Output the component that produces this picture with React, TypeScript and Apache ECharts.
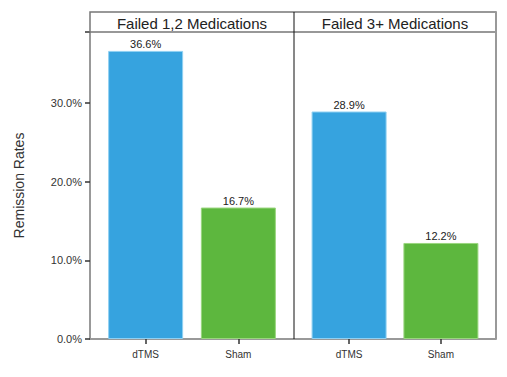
import React, { useEffect, useRef } from "react";
import * as echarts from "echarts";

const panels = ["Failed 1,2 Medications", "Failed 3+ Medications"];
const categories = ["dTMS", "Sham"];
const panel1Values = [36.6, 16.7];
const panel2Values = [28.9, 12.2];
const yTicks = [0, 10, 20, 30];
const barColors = ["#36A3DF", "#5DB73E"];
const barBorders = ["#8FD0F2", "#9AD67F"];

const FONT = "Liberation Sans, Arial, sans-serif";

export default function App() {
  const ref = useRef<HTMLDivElement>(null);
  useEffect(() => {
    if (!ref.current) return;
    const chart = echarts.init(ref.current, null, { renderer: "svg" });
    const L = 90, M = 294, R = 496, T = 32, B = 339, HT = 12;
    const positions = categories.map((_, i) => i + 1);
    const mkData = (vals: number[]) =>
      vals.map((v, i) => ({
        value: [positions[i], v],
        itemStyle: { color: barColors[i], borderColor: barBorders[i], borderWidth: 1 },
      }));
    const xAxisCommon = (gi: number) => ({
      type: "value",
      gridIndex: gi,
      min: 0.4,
      max: categories.length + 0.6,
      splitLine: { show: false },
      axisLine: { show: true, onZero: false, lineStyle: { color: "#999", width: 2 } },
      axisTick: { show: true, customValues: positions, length: 5, lineStyle: { color: "#333", width: 1.5 } },
      axisLabel: {
        customValues: positions,
        fontSize: 10,
        color: "#333",
        fontFamily: FONT,
        margin: 10,
        formatter: (v: number) => categories[Math.round(v) - 1] ?? "",
      },
    });
    const label = {
      show: true,
      position: "top",
      distance: 1,
      fontSize: 11,
      color: "#222",
      fontFamily: FONT,
      formatter: (p: any) => p.value[1].toFixed(1) + "%",
    };
    const option: any = {
      animation: false,
      grid: [
        { left: L, top: T, width: M - L, height: B - T },
        { left: M, top: T, width: R - M, height: B - T },
      ],
      xAxis: [xAxisCommon(0), xAxisCommon(1)],
      yAxis: [
        {
          type: "value",
          gridIndex: 0,
          min: 0,
          max: 39,
          interval: 10,
          name: "Remission Rates",
          nameLocation: "middle",
          nameGap: 64,
          nameTextStyle: { fontSize: 14, color: "#333", fontFamily: FONT },
          axisLine: { show: true, lineStyle: { color: "#999", width: 2 } },
          axisTick: { show: true, length: 5, lineStyle: { color: "#333", width: 1.5 } },
          axisLabel: {
            fontSize: 11,
            color: "#333",
            fontFamily: FONT,
            margin: 8,
            formatter: (v: number) => (yTicks.includes(v) ? v.toFixed(1) + "%" : ""),
          },
          splitLine: { show: false },
        },
        {
          type: "value",
          gridIndex: 1,
          min: 0,
          max: 39,
          interval: 10,
          axisLine: { show: false },
          axisTick: { show: false },
          axisLabel: { show: false },
          splitLine: { show: false },
        },
      ],
      series: [
        {
          type: "bar",
          xAxisIndex: 0,
          yAxisIndex: 0,
          data: mkData(panel1Values),
          barWidth: 75,
          label,
        },
        {
          type: "bar",
          xAxisIndex: 1,
          yAxisIndex: 1,
          data: mkData(panel2Values),
          barWidth: 75,
          label,
        },
      ],
      graphic: [
        { type: "rect", shape: { x: L, y: HT, width: R - L, height: T - HT }, style: { fill: "#fff", stroke: "#777", lineWidth: 1.5 }, z: 10 },
        { type: "line", shape: { x1: R, y1: HT, x2: R, y2: B }, style: { stroke: "#999", lineWidth: 2 }, z: 10 },
        { type: "line", shape: { x1: M, y1: HT, x2: M, y2: B }, style: { stroke: "#111", lineWidth: 1 }, z: 11 },
        {
          type: "text",
          x: (L + M) / 2,
          y: (HT + T) / 2 + 1,
          style: { text: panels[0], fontSize: 15, fill: "#222", fontFamily: FONT, align: "center", verticalAlign: "middle" },
          z: 12,
        },
        {
          type: "text",
          x: (M + R) / 2,
          y: (HT + T) / 2 + 1,
          style: { text: panels[1], fontSize: 15, fill: "#222", fontFamily: FONT, align: "center", verticalAlign: "middle" },
          z: 12,
        },
      ],
    };
    chart.setOption(option);
    return () => chart.dispose();
  }, []);
  return (
    <div
      ref={ref}
      style={{ position: "absolute", left: 0, top: 0, width: 507, height: 377, background: "#fff" }}
    />
  );
}
